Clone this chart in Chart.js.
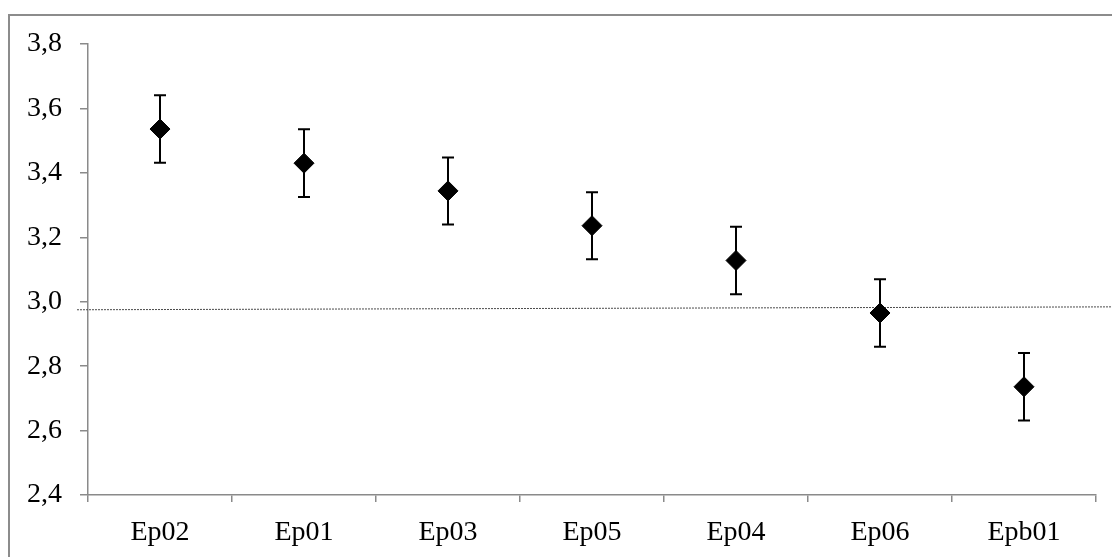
<!DOCTYPE html>
<html>
<head>
<meta charset="utf-8">
<script src="https://cdn.jsdelivr.net/npm/chart.js@4/dist/chart.umd.min.js"></script>
<style>
  html, body { margin: 0; padding: 0; background: #fff; overflow: hidden; }
  #wrap { position: relative; width: 1112px; height: 557px; }
  #frame { position: absolute; left: 8px; top: 14px; width: 1200px; height: 700px;
           border-left: 2px solid #8c8c8c; border-top: 2px solid #8c8c8c; }
  canvas { position: absolute; left: 0; top: 0; }
</style>
</head>
<body>
<div id="wrap">
  <div id="frame"></div>
  <canvas id="c" width="1112" height="557"></canvas>
</div>
<script>
// Mean scores per item, sorted from highest to lowest
const categories = ['Ep02', 'Ep01', 'Ep03', 'Ep05', 'Ep04', 'Ep06', 'Epb01'];
const means      = [3.536, 3.430, 3.344, 3.236, 3.128, 2.965, 2.736];
// Half-width of the error bars (same units as the means)
const errors     = [0.105, 0.105, 0.104, 0.104, 0.105, 0.105, 0.105];
// Dotted reference line: value at its left end and at its right end
const refLine    = [2.975, 2.984];
// Value axis range and step
const yMin = 2.4, yMax = 3.8, yStep = 0.2;

const FONT = { family: "'Liberation Serif', 'Times New Roman', serif", size: 28 };
const AXIS_GREY = '#8a8a8a';

const errorBarsPlugin = {
  id: 'errorBars',
  beforeDatasetsDraw(chart) {
    const { ctx, chartArea } = chart;
    const xs = chart.scales.x, ys = chart.scales.y;

    // dotted reference line, running past both ends of the plot area
    ctx.save();
    ctx.strokeStyle = '#4a4a4a';
    ctx.lineWidth = 1;
    ctx.setLineDash([2, 1]);
    ctx.beginPath();
    ctx.moveTo(chartArea.left - 11, ys.getPixelForValue(refLine[0]));
    ctx.lineTo(chart.width, ys.getPixelForValue(refLine[1]));
    ctx.stroke();
    ctx.restore();

    // error bars with caps
    ctx.save();
    ctx.strokeStyle = '#000';
    ctx.lineWidth = 2;
    const cap = 6;
    means.forEach((m, i) => {
      const x = xs.getPixelForValue(i);
      const yTop = ys.getPixelForValue(m + errors[i]);
      const yBot = ys.getPixelForValue(m - errors[i]);
      ctx.beginPath();
      ctx.moveTo(x, yTop); ctx.lineTo(x, yBot);
      ctx.moveTo(x - cap, yTop); ctx.lineTo(x + cap, yTop);
      ctx.moveTo(x - cap, yBot); ctx.lineTo(x + cap, yBot);
      ctx.stroke();
    });
    ctx.restore();
  }
};

new Chart(document.getElementById('c'), {
  type: 'line',
  data: {
    labels: categories,
    datasets: [{
      data: means,
      showLine: false,
      pointStyle: 'rectRot',
      pointRadius: 10,
      pointHoverRadius: 10,
      pointBackgroundColor: '#000',
      pointBorderColor: '#000',
      pointBorderWidth: 1
    }]
  },
  options: {
    responsive: false,
    animation: false,
    events: [],
    layout: { padding: { left: 0, right: 16, top: 44, bottom: 0 } },
    plugins: { legend: { display: false }, tooltip: { enabled: false } },
    scales: {
      x: {
        type: 'category',
        offset: true,
        grid: { offset: true, drawOnChartArea: false, drawTicks: true, tickLength: 7, color: AXIS_GREY, lineWidth: 1.5 },
        border: { display: true, color: AXIS_GREY, width: 1.5 },
        ticks: { color: '#000', font: FONT, padding: 14, maxRotation: 0 },
        afterFit(scale) { scale.height = 62; }
      },
      y: {
        min: yMin, max: yMax,
        grid: { drawOnChartArea: false, drawTicks: true, tickLength: 8, color: AXIS_GREY, lineWidth: 1.5 },
        border: { display: true, color: AXIS_GREY, width: 1.5 },
        ticks: {
          stepSize: yStep, color: '#000', font: FONT, padding: 18,
          callback: v => v.toFixed(1).replace('.', ',')
        },
        afterFit(scale) { scale.width = 88; }
      }
    }
  },
  plugins: [errorBarsPlugin]
});
</script>
</body>
</html>
